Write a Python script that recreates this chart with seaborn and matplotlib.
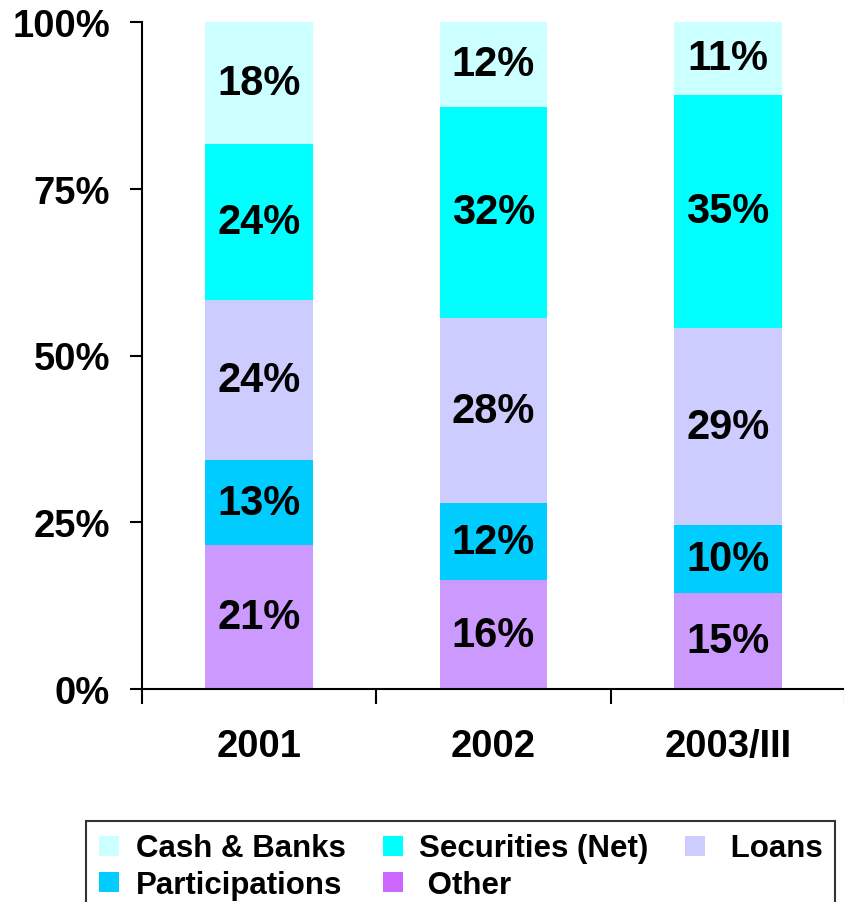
import pandas as pd
import matplotlib.pyplot as plt
import seaborn as sns
from matplotlib.lines import Line2D
from matplotlib.ticker import FixedLocator

# Asset structure by period (shares in %, bottom to top)
periods = ['2001', '2002', '2003/III']
categories = ['Other', 'Participations', 'Loans', 'Securities (Net)', 'Cash & Banks']
other = [21.6, 16.3, 14.4]
participations = [12.7, 11.6, 10.2]
loans = [24.0, 27.7, 29.5]
securities = [23.4, 31.7, 35.0]
cash = [18.3, 12.7, 10.9]

# printed labels on the segments
other_lbl = [21, 16, 15]
participations_lbl = [13, 12, 10]
loans_lbl = [24, 28, 29]
securities_lbl = [24, 32, 35]
cash_lbl = [18, 12, 11]

bar_colors = ['#CC99FF', '#00CCFF', '#CCCCFF', '#00FFFF', '#CCFFFF']
# legend is filled column by column -> order gives rows: Cash, Securities, Loans / Participations, Other
legend_text = ['Cash & Banks', 'Participations', 'Securities (Net)', ' Other', ' Loans']
legend_colors = ['#CCFFFF', '#00CCFF', '#00FFFF', '#CC66FF', '#CCCCFF']

sns.set_style('white')
plt.rcParams['font.family'] = ['Liberation Sans', 'DejaVu Sans']
plt.rcParams['font.weight'] = 'bold'
for k in ['text.color', 'xtick.color', 'ytick.color', 'axes.labelcolor']:
    plt.rcParams[k] = 'black'

values = [other, participations, loans, securities, cash]
labels = [other_lbl, participations_lbl, loans_lbl, securities_lbl, cash_lbl]

rows = []
for cat, vals, lbls in zip(categories, values, labels):
    for p, v, l in zip(periods, vals, lbls):
        rows.append({'period': p, 'category': cat, 'share': v, 'label': l})
df = pd.DataFrame(rows)
df['top'] = df.groupby('period')['share'].cumsum()
df['mid'] = df['top'] - df['share'] / 2

fig = plt.figure(figsize=(8.45, 9.03), dpi=100)
ax = fig.add_axes([142 / 845, 213 / 903, 1 - 142 / 845, 667 / 903])

# stacked bars: draw cumulative totals from the top layer down
for cat, col in reversed(list(zip(categories, bar_colors))):
    sub = df[df['category'] == cat]
    sns.barplot(data=sub, x='period', y='top', order=periods, color=col,
                saturation=1, width=0.46, linewidth=0, ax=ax, zorder=2)

for _, r in df.iterrows():
    ax.text(periods.index(r['period']), r['mid'], f"{r['label']}%",
            ha='center', va='center', fontsize=30, fontweight='bold',
            color='black', zorder=5)

ax.set_xlim(-0.5, 2.5)
ax.set_ylim(0, 100)
ax.set_yticks([0, 25, 50, 75, 100])
ax.set_yticklabels([f'{t}%' for t in [0, 25, 50, 75, 100]])
ax.xaxis.set_minor_locator(FixedLocator([-0.5, 0.5, 1.5, 2.5]))
ax.tick_params(axis='y', which='major', direction='out', length=9, width=1.5,
               pad=14, labelsize=27.5, left=True, colors='black')
ax.tick_params(axis='x', which='major', length=0, pad=28, labelsize=27.5,
               colors='black')
ax.tick_params(axis='x', which='minor', direction='out', length=11, width=1.5,
               bottom=True, colors='black')
ax.set_xlabel('')
ax.set_ylabel('')
for s in ['top', 'right']:
    ax.spines[s].set_visible(False)
for s in ['left', 'bottom']:
    ax.spines[s].set_linewidth(1.5)
    ax.spines[s].set_color('black')

handles = [Line2D([], [], marker='s', linestyle='none', markersize=14,
                  markerfacecolor=c, markeredgewidth=0) for c in legend_colors]
leg = fig.legend(handles, legend_text, loc='upper left',
                 bbox_to_anchor=(86 / 845, 1 - 822 / 903), ncol=3,
                 frameon=True, fancybox=False, fontsize=22.5, borderaxespad=0,
                 handlelength=0.7, handletextpad=0.5, columnspacing=1.15,
                 labelspacing=0.2, borderpad=0.4)
leg.get_frame().set_edgecolor('black')
leg.get_frame().set_linewidth(1.5)
for t in leg.get_texts():
    t.set_fontweight('bold')
    t.set_color('black')

fig.savefig('out.png', dpi=100)
